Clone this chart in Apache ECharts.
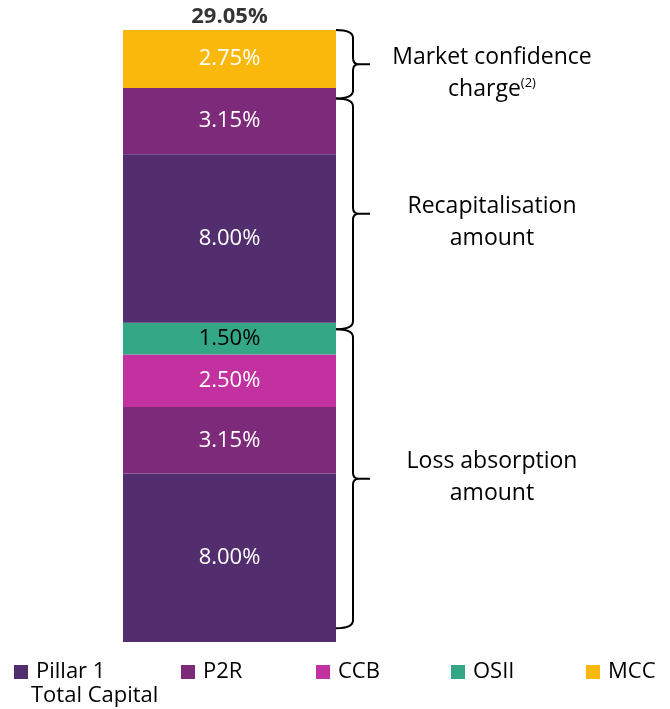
<!DOCTYPE html>
<html>
<head>
<meta charset="utf-8">
<script src="https://cdn.jsdelivr.net/npm/echarts@6/dist/echarts.min.js"></script>
<style>
  html, body { margin: 0; padding: 0; background: #fff; }
  #chart { width: 670px; height: 709px; }
</style>
</head>
<body>
<div id="chart"></div>
<script>
const categories = ['Total Capital'];
const segNames = ['Pillar 1', 'P2R', 'CCB', 'OSII', 'Pillar 1', 'P2R', 'MCC'];
const segValues = [8.00, 3.15, 2.50, 1.50, 8.00, 3.15, 2.75];
const legendNames = ['Pillar 1', 'P2R', 'CCB', 'OSII', 'MCC'];
// brace spans (value units, top -> bottom) as drawn in the picture
const braceStart = [29.05, 25.8, 14.85];
const braceEnd = [25.8, 14.85, 0.65];
const braceLabels = ['Market confidence\ncharge{sup|(2)}', 'Recapitalisation\namount', 'Loss absorption\namount'];

const colors = {
  'Pillar 1': '#532E6E',
  'P2R': '#7E2A7A',
  'CCB': '#C3309F',
  'OSII': '#34A886',
  'MCC': '#F9B80B'
};
const font = 'Open Sans';
const total = segValues.reduce((a, b) => a + b, 0);
const labelShift = [9, 9, -1]; // caption offset from brace tip

const chart = echarts.init(document.getElementById('chart'));

const series = segValues.map((v, i) => ({
  type: 'bar',
  name: segNames[i],
  stack: 'cap',
  barWidth: '100%',
  data: [v],
  itemStyle: { color: colors[segNames[i]] },
  label: {
    show: true,
    position: 'inside',
    color: segNames[i] === 'OSII' ? '#000' : '#fff',
    fontSize: 22,
    fontFamily: font,
    formatter: (p) => p.value.toFixed(2) + '%'
  }
}));

// total on top of the stack
series.push({
  type: 'scatter',
  name: 'Total',
  symbolSize: 0,
  silent: true,
  data: [[0, total]],
  label: {
    show: true,
    position: 'top',
    distance: 2,
    color: '#000',
    fontWeight: 'bold',
    fontSize: 22,
    fontFamily: font,
    formatter: () => total.toFixed(2) + '%'
  }
});

// curly braces + their captions
series.push({
  type: 'custom',
  silent: true,
  data: braceStart.map((s, i) => [0, s, braceEnd[i], i]),
  renderItem: (params, api) => {
    const idx = api.value(3);
    const p0 = api.coord([0, api.value(1)]);
    const p1 = api.coord([0, api.value(2)]);
    const xs = p0[0] + api.size([1, 0])[0] / 2;
    const xv = xs + 17;
    const xt = xv + 17;
    const y0 = p0[1];
    const y1 = p1[1];
    const ym = (y0 + y1) / 2;
    const d = 'M' + xs + ' ' + y0 + ' Q' + xv + ' ' + y0 + ' ' + xv + ' ' + (y0 + 8) +
      ' L' + xv + ' ' + (ym - 6) + ' Q' + xv + ' ' + ym + ' ' + (xv + 6) + ' ' + ym +
      ' L' + xt + ' ' + ym +
      ' M' + (xv + 6) + ' ' + ym + ' Q' + xv + ' ' + ym + ' ' + xv + ' ' + (ym + 6) +
      ' L' + xv + ' ' + (y1 - 8) + ' Q' + xv + ' ' + y1 + ' ' + xs + ' ' + y1;
    return {
      type: 'group',
      children: [{
        type: 'path',
        shape: { pathData: d },
        style: { fill: 'none', stroke: '#000', lineWidth: 2 }
      }, {
        type: 'text',
        x: xt + 122,
        y: ym + labelShift[idx],
        style: {
          text: braceLabels[idx],
          align: 'center',
          verticalAlign: 'middle',
          fontSize: 23,
          lineHeight: 32,
          fontFamily: font,
          fill: '#000',
          rich: {
            sup: { fontSize: 13, fontFamily: font, padding: [0, 0, 12, 0] }
          }
        }
      }]
    };
  }
});

const legendWidths = { 'Pillar 1': 145, 'MCC': 49 };

const option = {
  animation: false,
  grid: { left: 123, right: 334, top: 30, bottom: 67 },
  xAxis: {
    type: 'category',
    data: categories,
    show: false
  },
  yAxis: {
    type: 'value',
    min: 0,
    max: total,
    show: false
  },
  legend: {
    left: 14,
    top: 661,
    width: 656,
    padding: 0,
    icon: 'rect',
    itemWidth: 14,
    itemHeight: 14,
    itemGap: 0,
    selectedMode: false,
    data: legendNames,
    formatter: (name) => (name === 'Pillar 1' ? '{w1|' : name === 'MCC' ? '{w3|' : '{w2|') + name + '}',
    textStyle: {
      fontSize: 22,
      fontFamily: font,
      color: '#000',
      rich: {
        w1: { width: legendWidths['Pillar 1'], fontSize: 22, fontFamily: font, lineHeight: 26, padding: [0, 0, 0, 3] },
        w2: { width: 113, fontSize: 22, fontFamily: font, lineHeight: 26, padding: [0, 0, 0, 3] },
        w3: { width: legendWidths['MCC'], fontSize: 22, fontFamily: font, lineHeight: 26, padding: [0, 0, 0, 3] }
      }
    }
  },
  graphic: [{
    type: 'text',
    left: 31,
    top: 685,
    style: { text: categories[0], fontSize: 22, fontFamily: font, fill: '#000' }
  }],
  series: series
};

chart.setOption(option);
</script>
</body>
</html>
